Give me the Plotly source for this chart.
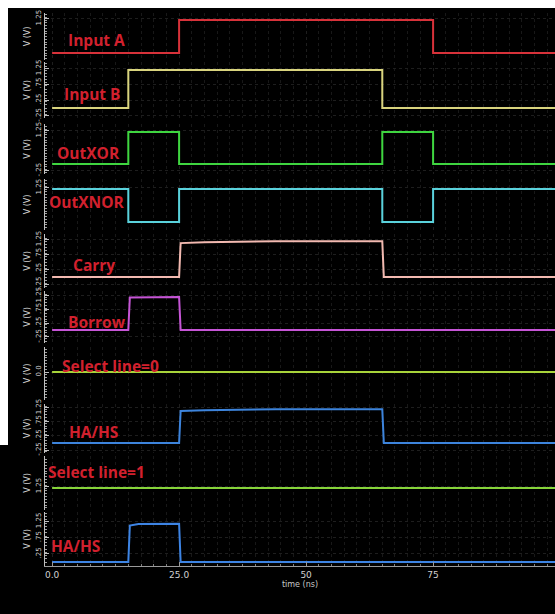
import plotly.graph_objects as go

# ---------------- data (time in ns, voltage in V) ----------------
LABELS = ["Input A", "Input B", "OutXOR", "OutXNOR", "Carry", "Borrow",
          "Select line=0", "HA/HS", "Select line=1", "HA/HS"]

T_INPUT_A = [0, 25, 75, 99]
V_INPUT_A = [0, 1.2, 0, 0]

T_INPUT_B = [0, 15, 65, 99]
V_INPUT_B = [0, 1.2, 0, 0]

T_XOR = [0, 15, 25, 65, 75, 99]
V_XOR = [0, 1.2, 0, 1.2, 0, 0]

T_XNOR = [0, 15, 25, 65, 75, 99]
V_XNOR = [1.2, 0, 1.2, 0, 1.2, 1.2]

T_CARRY = [0, 25, 25.3, 30, 44, 65, 65.3, 99]
V_CARRY = [0, 0, 1.13, 1.16, 1.19, 1.19, 0, 0]

T_BORROW = [0, 15, 15.3, 25, 25.3, 99]
V_BORROW = [0, 0, 1.18, 1.2, 0, 0]

T_SEL0 = [0, 99]
V_SEL0 = [0, 0]

T_HAHS0 = [0, 25, 25.3, 30, 44, 65, 65.3, 99]
V_HAHS0 = [0, 0, 1.13, 1.16, 1.19, 1.19, 0, 0]

T_SEL1 = [0, 99]
V_SEL1 = [1.2, 1.2]

T_HAHS1 = [0, 15, 15.3, 17, 25, 25.3, 99]
V_HAHS1 = [0, 0, 1.12, 1.17, 1.18, 0, 0]

TIMES = [T_INPUT_A, T_INPUT_B, T_XOR, T_XNOR, T_CARRY, T_BORROW,
         T_SEL0, T_HAHS0, T_SEL1, T_HAHS1]
VOLTS = [V_INPUT_A, V_INPUT_B, V_XOR, V_XNOR, V_CARRY, V_BORROW,
         V_SEL0, V_HAHS0, V_SEL1, V_HAHS1]

X_TICKS = [0, 25, 50, 75]
X_TICK_TEXT = ["0.0", "25.0", "50", "75"]

# ---------------- styling / layout ----------------
COLORS = ["#d8323a", "#d9d47e", "#3fd640", "#5ad2dc", "#f2b9b0", "#c655d6",
          "#a8d43a", "#3d84dc", "#86d43a", "#3d84e4"]
SHAPES = ["hv", "hv", "hv", "hv", "linear", "linear", "hv", "linear", "hv", "linear"]

W, H = 555, 614
PLOT_L, PLOT_T, PLOT_B = 45, 8, 577          # pixels of plot area
ML, MT, MB = PLOT_L, PLOT_T, H - PLOT_B
PW, PH = W - ML, H - MT - MB

# pixel geometry of panels: top, bottom, px of 1.2 V, px of 0 V
GEOM = [
    (13, 60, 20, 53),
    (62, 118, 70, 108),
    (124, 174, 132, 164),
    (179, 230, 189, 222),
    (234, 288, 241, 277),
    (291, 343, 297, 330),
    (347, 400, 338, 372),
    (404, 453, 409, 443),
    (456, 510, 488, 522),
    (512, 566, 523, 562),
]
# label centre positions (pixels)
LABEL_POS = [(96, 40), (92, 94), (88, 153), (87, 202), (94, 265), (97, 322),
             (110, 366), (93, 432), (96, 472), (75, 546)]

TICKVALS = [[1.25], [1.25, 0.75, 0.25, -0.25], [1.25, -0.25],
            [1.25], [1.25, 0.75, 0.25, -0.25], [1.25, 0.75, 0.25, -0.25],
            [0.0], [1.25, 0.75, 0.25, -0.25], [1.25], [1.25, 0.75, 0.25, -0.25]]


def fmt(v):
    if v == 0:
        return "0.0"
    s = f"{v:g}"
    return s.replace("0.", ".")


def py2paper(py):
    return 1 - (py - PLOT_T) / PH


def px2paper(px):
    return (px - PLOT_L) / PW


fig = go.Figure()
layout = dict(
    width=W, height=H,
    margin=dict(l=ML, r=0, t=MT, b=MB, pad=0),
    paper_bgcolor="#000000", plot_bgcolor="#000000",
    showlegend=False,
    font=dict(family="DejaVu Sans", color="#d6d6d6", size=8),
)

for i in range(10):
    n = i + 1
    ya = "y" if n == 1 else f"y{n}"
    fig.add_trace(go.Scatter(
        x=TIMES[i], y=VOLTS[i], mode="lines", xaxis="x", yaxis=ya,
        line=dict(color=COLORS[i], width=2, shape=SHAPES[i]),
        hoverinfo="skip"))
    top, bot, phi, plo = GEOM[i]
    scale = 1.2 / (plo - phi)
    ytop = 1.2 + (phi - top) * scale
    ybot = 0 - (bot - plo) * scale
    key = "yaxis" if n == 1 else f"yaxis{n}"
    tv = [v for v in TICKVALS[i] if ybot < v < ytop]
    layout[key] = dict(
        domain=[py2paper(bot), py2paper(top)],
        range=[ybot, ytop], anchor="x", automargin=False,
        showline=True, linecolor="#c0c0c0", linewidth=1,
        ticks="inside", ticklen=4, tickcolor="#c0c0c0",
        tickvals=tv, ticktext=[fmt(v) for v in tv],
        tickangle=-90, tickfont=dict(size=7, color="#d0d0d0"),
        minor=dict(ticks="inside", ticklen=2, dtick=0.1, tickcolor="#a0a0a0",
                   showgrid=False),
        showgrid=True, gridcolor="#1e1e1e", griddash="dot",
        zeroline=False, fixedrange=True,
        title=dict(text="V (V)", font=dict(size=8, color="#d0d0d0"), standoff=3),
    )

layout["xaxis"] = dict(
    range=[-1.4, 99], anchor="y10", automargin=False,
    showline=True, linecolor="#9a9a9a", linewidth=1,
    ticks="inside", ticklen=4, tickcolor="#9a9a9a",
    tickvals=X_TICKS, ticktext=X_TICK_TEXT,
    tickfont=dict(size=9, color="#d0d0d0"),
    minor=dict(ticks="inside", ticklen=2, dtick=2.5, tickcolor="#808080",
               showgrid=True, gridcolor="#181818", griddash="dot"),
    showgrid=True, gridcolor="#1e1e1e", griddash="dot",
    zeroline=False, fixedrange=True,
    title=dict(text="time (ns)", font=dict(size=8, color="#c8c8c8"), standoff=2),
)

annotations = []
for i, (lx, ly) in enumerate(LABEL_POS):
    annotations.append(dict(
        x=px2paper(lx), y=py2paper(ly), xref="paper", yref="paper",
        text=f"<b>{LABELS[i]}</b>", showarrow=False,
        font=dict(family="Open Sans", size=15.5, color="#d2202e"),
        xanchor="center", yanchor="middle"))
layout["annotations"] = annotations

# white frame strips along the top and upper-left edge of the screenshot
layout["shapes"] = [
    dict(type="rect", xref="paper", yref="paper", layer="above",
         x0=px2paper(0), x1=px2paper(W), y0=py2paper(PLOT_T), y1=py2paper(0),
         fillcolor="#ffffff", line=dict(width=0)),
    dict(type="rect", xref="paper", yref="paper", layer="above",
         x0=px2paper(0), x1=px2paper(8), y0=py2paper(445), y1=py2paper(0),
         fillcolor="#ffffff", line=dict(width=0)),
]

fig.update_layout(**layout)
fig.write_html(
    "out.html",
    config={"displayModeBar": False},
    post_script="document.body.style.margin='0px';"
                "document.documentElement.style.overflow='hidden';",
)
